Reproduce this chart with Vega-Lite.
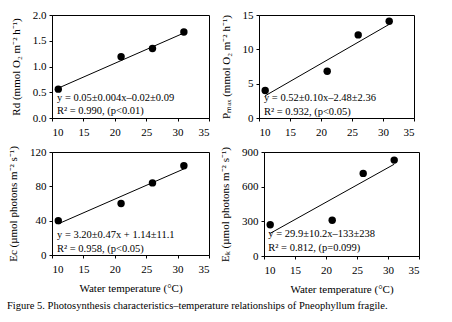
{
  "$schema": "https://vega.github.io/schema/vega-lite/v6.json",
  "padding": {"left": 7, "top": 8, "right": 5, "bottom": 6},
  "background": "white",
  "title": {
    "text": "Figure 5. Photosynthesis characteristics–temperature relationships of Pneophyllum fragile.",
    "orient": "bottom",
    "anchor": "start",
    "font": "Liberation Serif",
    "fontSize": 10.5,
    "fontWeight": "normal",
    "color": "black",
    "offset": 6
  },
  "datasets": {
    "pts": [
      {"panel": "Rd", "temp": 11, "value": 0.56},
      {"panel": "Rd", "temp": 21, "value": 1.19},
      {"panel": "Rd", "temp": 26, "value": 1.35},
      {"panel": "Rd", "temp": 31, "value": 1.67},
      {"panel": "Pmax", "temp": 11, "value": 4.0},
      {"panel": "Pmax", "temp": 21, "value": 6.8},
      {"panel": "Pmax", "temp": 26, "value": 12.1},
      {"panel": "Pmax", "temp": 31, "value": 14.1},
      {"panel": "Ec", "temp": 11, "value": 40},
      {"panel": "Ec", "temp": 21, "value": 60},
      {"panel": "Ec", "temp": 26, "value": 84},
      {"panel": "Ec", "temp": 31, "value": 104},
      {"panel": "Ek", "temp": 11, "value": 270},
      {"panel": "Ek", "temp": 21, "value": 310},
      {"panel": "Ek", "temp": 26, "value": 715},
      {"panel": "Ek", "temp": 31, "value": 830}
    ],
    "fits": [
      {"panel": "Rd", "temp": 11, "value": 0.58},
      {"panel": "Rd", "temp": 31, "value": 1.65},
      {"panel": "Pmax", "temp": 11, "value": 3.24},
      {"panel": "Pmax", "temp": 31, "value": 13.64},
      {"panel": "Ec", "temp": 11, "value": 36.3},
      {"panel": "Ec", "temp": 31, "value": 100.3},
      {"panel": "Ek", "temp": 11, "value": 196},
      {"panel": "Ek", "temp": 31, "value": 794}
    ],
    "notes": [
      {"panel": "Rd", "temp": 10.8, "value": 0.39, "label": "y = 0.05±0.004x–0.02±0.09"},
      {"panel": "Rd", "temp": 10.8, "value": 0.14, "label": "R² = 0.990, (p<0.01)"},
      {"panel": "Pmax", "temp": 10.8, "value": 2.9, "label": "y = 0.52±0.10x–2.48±2.36"},
      {"panel": "Pmax", "temp": 10.8, "value": 0.9, "label": "R² = 0.932, (p<0.05)"},
      {"panel": "Ec", "temp": 10.8, "value": 23.5, "label": "y = 3.20±0.47x + 1.14±11.1"},
      {"panel": "Ec", "temp": 10.8, "value": 7, "label": "R² = 0.958, (p<0.05)"},
      {"panel": "Ek", "temp": 10.7, "value": 190, "label": "y = 29.9±10.2x–133±238"},
      {"panel": "Ek", "temp": 10.7, "value": 69, "label": "R² = 0.812, (p=0.099)"}
    ]
  },
  "spacing": 7,
  "vconcat": [
    {
      "spacing": 9,
      "hconcat": [
        {
          "width": 157, "height": 103,
          "encoding": {
            "x": {"field": "temp", "type": "quantitative", "scale": {"domain": [10, 35], "nice": false}, "axis": {"values": [10, 15, 20, 25, 30, 35], "title": null}},
            "y": {"field": "value", "type": "quantitative", "scale": {"domain": [0, 2], "nice": false}, "axis": {"values": [0, 0.5, 1, 1.5, 2], "format": ".1f", "title": "Rd (mmol O₂ m⁻² h⁻¹)"}}
          },
          "layer": [
            {"data": {"name": "fits"}, "transform": [{"filter": "datum.panel === 'Rd'"}],
             "mark": {"type": "line", "color": "black", "strokeWidth": 1}},
            {"data": {"name": "pts"}, "transform": [{"filter": "datum.panel === 'Rd'"}],
             "mark": {"type": "point", "filled": true, "color": "black", "size": 55, "opacity": 1}},
            {"data": {"name": "notes"}, "transform": [{"filter": "datum.panel === 'Rd'"}],
             "mark": {"type": "text", "align": "left", "baseline": "middle", "font": "Liberation Serif", "fontSize": 10.5, "color": "black"},
             "encoding": {"text": {"field": "label"}}}
          ]
        },
        {
          "width": 155, "height": 103,
          "encoding": {
            "x": {"field": "temp", "type": "quantitative", "scale": {"domain": [10, 35], "nice": false}, "axis": {"values": [10, 15, 20, 25, 30, 35], "title": null}},
            "y": {"field": "value", "type": "quantitative", "scale": {"domain": [0, 15], "nice": false}, "axis": {"values": [0, 5, 10, 15], "title": "Pₘₐₓ (mmol O₂ m⁻² h⁻¹)"}}
          },
          "layer": [
            {"data": {"name": "fits"}, "transform": [{"filter": "datum.panel === 'Pmax'"}],
             "mark": {"type": "line", "color": "black", "strokeWidth": 1}},
            {"data": {"name": "pts"}, "transform": [{"filter": "datum.panel === 'Pmax'"}],
             "mark": {"type": "point", "filled": true, "color": "black", "size": 55, "opacity": 1}},
            {"data": {"name": "notes"}, "transform": [{"filter": "datum.panel === 'Pmax'"}],
             "mark": {"type": "text", "align": "left", "baseline": "middle", "font": "Liberation Serif", "fontSize": 10.5, "color": "black"},
             "encoding": {"text": {"field": "label"}}}
          ]
        }
      ]
    },
    {
      "spacing": 9,
      "hconcat": [
        {
          "width": 157, "height": 103,
          "encoding": {
            "x": {"field": "temp", "type": "quantitative", "scale": {"domain": [10, 35], "nice": false}, "axis": {"values": [10, 15, 20, 25, 30, 35], "title": "Water temperature (°C)"}},
            "y": {"field": "value", "type": "quantitative", "scale": {"domain": [0, 120], "nice": false}, "axis": {"values": [0, 40, 80, 120], "title": "Ec (µmol photons m⁻² s⁻¹)"}}
          },
          "layer": [
            {"data": {"name": "fits"}, "transform": [{"filter": "datum.panel === 'Ec'"}],
             "mark": {"type": "line", "color": "black", "strokeWidth": 1}},
            {"data": {"name": "pts"}, "transform": [{"filter": "datum.panel === 'Ec'"}],
             "mark": {"type": "point", "filled": true, "color": "black", "size": 55, "opacity": 1}},
            {"data": {"name": "notes"}, "transform": [{"filter": "datum.panel === 'Ec'"}],
             "mark": {"type": "text", "align": "left", "baseline": "middle", "font": "Liberation Serif", "fontSize": 10.5, "color": "black"},
             "encoding": {"text": {"field": "label"}}}
          ]
        },
        {
          "width": 155, "height": 104,
          "encoding": {
            "x": {"field": "temp", "type": "quantitative", "scale": {"domain": [10, 35], "nice": false}, "axis": {"values": [10, 15, 20, 25, 30, 35], "title": "Water temperature (°C)"}},
            "y": {"field": "value", "type": "quantitative", "scale": {"domain": [0, 900], "nice": false}, "axis": {"values": [0, 300, 600, 900], "title": "Eₖ (µmol photons m⁻² s⁻¹)"}}
          },
          "layer": [
            {"data": {"name": "fits"}, "transform": [{"filter": "datum.panel === 'Ek'"}],
             "mark": {"type": "line", "color": "black", "strokeWidth": 1}},
            {"data": {"name": "pts"}, "transform": [{"filter": "datum.panel === 'Ek'"}],
             "mark": {"type": "point", "filled": true, "color": "black", "size": 55, "opacity": 1}},
            {"data": {"name": "notes"}, "transform": [{"filter": "datum.panel === 'Ek'"}],
             "mark": {"type": "text", "align": "left", "baseline": "middle", "font": "Liberation Serif", "fontSize": 10.5, "color": "black"},
             "encoding": {"text": {"field": "label"}}}
          ]
        }
      ]
    }
  ],
  "config": {
    "view": {"stroke": "black", "strokeWidth": 1},
    "axisX": {"labelPadding": 5, "titlePadding": 8},
    "axisY": {"labelPadding": 3, "titlePadding": 11},
    "axis": {
      "grid": false,
      "domainColor": "black",
      "domainWidth": 1,
      "tickColor": "black",
      "tickSize": 3,
      "labelColor": "black",
      "labelFont": "Liberation Serif",
      "labelFontSize": 11,
      "labelOverlap": false,
      "labelSeparation": 0,
      "titleColor": "black",
      "titleFont": "Liberation Serif",
      "titleFontSize": 11,
      "titleFontWeight": "normal"
    }
  }
}
